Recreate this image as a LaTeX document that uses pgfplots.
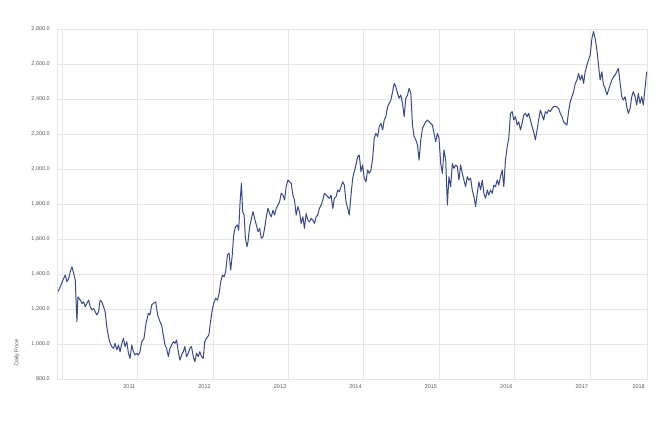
\documentclass[border=0pt]{standalone}
\usepackage{fontspec}
\setmainfont{Liberation Sans}
\usepackage{pgfplots}
\pgfplotsset{compat=1.18}
\definecolor{priceline}{RGB}{58,74,132}
\definecolor{gridc}{RGB}{230,230,234}
\definecolor{labc}{RGB}{90,90,90}

\begin{document}
\begin{tikzpicture}
\path[use as bounding box] (-57pt,-44pt) rectangle (601pt,379pt);
\begin{axis}[
    at={(0pt,0pt)}, anchor=south west,
    scale only axis,
    width=590pt, height=350pt,
    xmin=2009.934, xmax=2017.754,
    ymin=800, ymax=2800,
    xtick={2010,2011,2012,2013,2014,2015,2016,2017,2017.754},
    xticklabels={,2011,2012,2013,2014,2015,2016,2017,2018},
    ytick={800,1000,...,2800},
    grid=major,
    major grid style={draw=gridc, line width=0.7pt},
    axis line style={draw=gridc, line width=0.7pt},
    major tick length=0pt,
    tick label style={font=\fontsize{5.5}{6}\selectfont, text=labc},
    xticklabel style={anchor=north east, inner sep=0pt, yshift=-5pt, xshift=-2pt},
    yticklabel style={anchor=east, inner sep=0pt, xshift=-7pt},
    /pgf/number format/assume math mode=true,
    yticklabel={\pgfmathprintnumber[fixed, fixed zerofill, precision=1, 1000 sep={,}]{\tick}},
    scaled y ticks=false,
    ylabel={Daily Price},
    ylabel style={at={(axis description cs:-0.068,0.075)}, anchor=center,
                  font=\fontsize{5.5}{6}\selectfont, text=labc},
]
\addplot[color=priceline, line width=1pt, line join=round] coordinates {
(2009.947,1300) (2009.978,1327) (2010.022,1375) (2010.044,1394) (2010.066,1356)
(2010.089,1375) (2010.110,1413) (2010.132,1441) (2010.155,1404) (2010.176,1366)
(2010.198,1127) (2010.211,1270) (2010.242,1251) (2010.264,1232) (2010.287,1241)
(2010.308,1213) (2010.353,1251) (2010.374,1213) (2010.396,1194) (2010.419,1203)
(2010.462,1166) (2010.485,1185) (2010.506,1251) (2010.528,1241) (2010.551,1213)
(2010.572,1185) (2010.594,1099) (2010.617,1042) (2010.638,1004) (2010.661,985)
(2010.683,975) (2010.704,1004) (2010.727,966) (2010.749,994) (2010.770,956)
(2010.793,1004) (2010.815,1032) (2010.836,985) (2010.859,1013) (2010.881,947)
(2010.902,918) (2010.925,994) (2010.947,956) (2010.968,937) (2010.991,947)
(2011.013,937) (2011.034,956) (2011.057,1013) (2011.087,1032) (2011.114,1118)
(2011.145,1175) (2011.166,1166) (2011.189,1223) (2011.211,1232) (2011.242,1241)
(2011.268,1166) (2011.299,1127) (2011.321,1109) (2011.343,1051) (2011.365,994)
(2011.387,975) (2011.410,928) (2011.431,975) (2011.453,994) (2011.476,1013)
(2011.497,1004) (2011.519,1023) (2011.542,956) (2011.563,908) (2011.585,937)
(2011.608,956) (2011.629,985) (2011.651,928) (2011.674,947) (2011.695,975)
(2011.717,985) (2011.740,928) (2011.761,899) (2011.783,947) (2011.806,928)
(2011.827,956) (2011.849,928) (2011.872,918) (2011.893,1013) (2011.915,1032)
(2011.946,1051) (2011.972,1137) (2011.995,1203) (2012.017,1241) (2012.038,1261)
(2012.061,1251) (2012.083,1290) (2012.104,1356) (2012.127,1394) (2012.149,1384)
(2012.170,1413) (2012.193,1509) (2012.215,1518) (2012.236,1423) (2012.255,1499)
(2012.276,1623) (2012.299,1670) (2012.325,1680) (2012.342,1651) (2012.361,1813)
(2012.378,1918) (2012.395,1756) (2012.414,1737) (2012.431,1604) (2012.453,1556)
(2012.466,1585) (2012.487,1670) (2012.532,1756) (2012.553,1718) (2012.576,1680)
(2012.598,1642) (2012.620,1661) (2012.642,1604) (2012.664,1613) (2012.686,1661)
(2012.708,1727) (2012.731,1775) (2012.752,1746) (2012.774,1727) (2012.797,1765)
(2012.818,1737) (2012.840,1775) (2012.863,1794) (2012.884,1813) (2012.906,1861)
(2012.929,1851) (2012.950,1823) (2012.972,1899) (2012.995,1937) (2013.016,1927)
(2013.038,1918) (2013.061,1851) (2013.082,1823) (2013.104,1737) (2013.127,1785)
(2013.148,1756) (2013.170,1689) (2013.193,1727) (2013.214,1661) (2013.236,1746)
(2013.259,1708) (2013.280,1699) (2013.303,1718) (2013.325,1708) (2013.346,1689)
(2013.369,1727) (2013.391,1737) (2013.412,1775) (2013.435,1794) (2013.457,1823)
(2013.478,1861) (2013.501,1851) (2013.523,1842) (2013.544,1832) (2013.567,1851)
(2013.589,1775) (2013.610,1832) (2013.633,1842) (2013.655,1880) (2013.676,1870)
(2013.699,1899) (2013.721,1927) (2013.742,1908) (2013.765,1813) (2013.787,1775)
(2013.808,1737) (2013.831,1851) (2013.853,1947) (2013.874,1985) (2013.897,2023)
(2013.919,2070) (2013.940,2080) (2013.963,1985) (2013.985,2023) (2014.006,1947)
(2014.029,1927) (2014.051,1994) (2014.073,1975) (2014.095,1994) (2014.118,2061)
(2014.139,2175) (2014.161,2204) (2014.184,2185) (2014.205,2242) (2014.227,2261)
(2014.250,2223) (2014.271,2280) (2014.293,2299) (2014.316,2356) (2014.337,2375)
(2014.359,2394) (2014.382,2442) (2014.403,2489) (2014.425,2470) (2014.448,2432)
(2014.469,2404) (2014.491,2423) (2014.514,2375) (2014.535,2299) (2014.557,2404)
(2014.580,2423) (2014.601,2461) (2014.624,2432) (2014.646,2251) (2014.667,2185)
(2014.690,2166) (2014.712,2137) (2014.733,2051) (2014.756,2166) (2014.778,2232)
(2014.799,2251) (2014.822,2270) (2014.844,2280) (2014.865,2270) (2014.888,2261)
(2014.910,2251) (2014.931,2204) (2014.954,2156) (2014.976,2204) (2014.997,2175)
(2015.020,2032) (2015.042,1975) (2015.063,2109) (2015.086,2051) (2015.108,1794)
(2015.129,1956) (2015.152,1899) (2015.174,2032) (2015.195,2004) (2015.218,2023)
(2015.240,2013) (2015.261,1937) (2015.284,2023) (2015.306,1975) (2015.327,1937)
(2015.350,1899) (2015.372,1956) (2015.393,1937) (2015.416,1947) (2015.438,1880)
(2015.460,1842) (2015.482,1785) (2015.504,1861) (2015.526,1927) (2015.548,1880)
(2015.571,1937) (2015.592,1861) (2015.614,1832) (2015.637,1880) (2015.658,1851)
(2015.680,1880) (2015.703,1861) (2015.724,1908) (2015.746,1899) (2015.769,1937)
(2015.790,1908) (2015.812,1956) (2015.835,1994) (2015.856,1899) (2015.878,2051)
(2015.901,2128) (2015.922,2175) (2015.945,2318) (2015.967,2328) (2015.988,2280)
(2016.011,2299) (2016.033,2251) (2016.054,2270) (2016.077,2223) (2016.099,2261)
(2016.120,2308) (2016.143,2318) (2016.165,2299) (2016.186,2318) (2016.209,2280)
(2016.231,2242) (2016.252,2213) (2016.275,2166) (2016.297,2223) (2016.318,2280)
(2016.341,2337) (2016.363,2308) (2016.384,2280) (2016.407,2328) (2016.429,2318)
(2016.450,2337) (2016.473,2328) (2016.495,2346) (2016.516,2356) (2016.539,2356)
(2016.561,2356) (2016.582,2346) (2016.605,2318) (2016.627,2299) (2016.648,2270)
(2016.671,2261) (2016.693,2251) (2016.714,2328) (2016.737,2385) (2016.759,2413)
(2016.781,2442) (2016.803,2489) (2016.826,2508) (2016.847,2546) (2016.869,2508)
(2016.892,2537) (2016.913,2489) (2016.935,2556) (2016.958,2594) (2016.979,2623)
(2017.001,2651) (2017.024,2746) (2017.045,2785) (2017.067,2746) (2017.090,2680)
(2017.111,2594) (2017.133,2508) (2017.156,2556) (2017.177,2480) (2017.199,2461)
(2017.222,2423) (2017.243,2451) (2017.265,2480) (2017.288,2508) (2017.309,2527)
(2017.332,2537) (2017.354,2556) (2017.375,2575) (2017.398,2489) (2017.420,2413)
(2017.441,2394) (2017.464,2413) (2017.486,2356) (2017.507,2318) (2017.530,2346)
(2017.552,2413) (2017.573,2442) (2017.596,2413) (2017.618,2366) (2017.639,2432)
(2017.662,2375) (2017.684,2413) (2017.705,2366) (2017.728,2461) (2017.750,2556)
};
\end{axis}
\end{tikzpicture}
\end{document}
